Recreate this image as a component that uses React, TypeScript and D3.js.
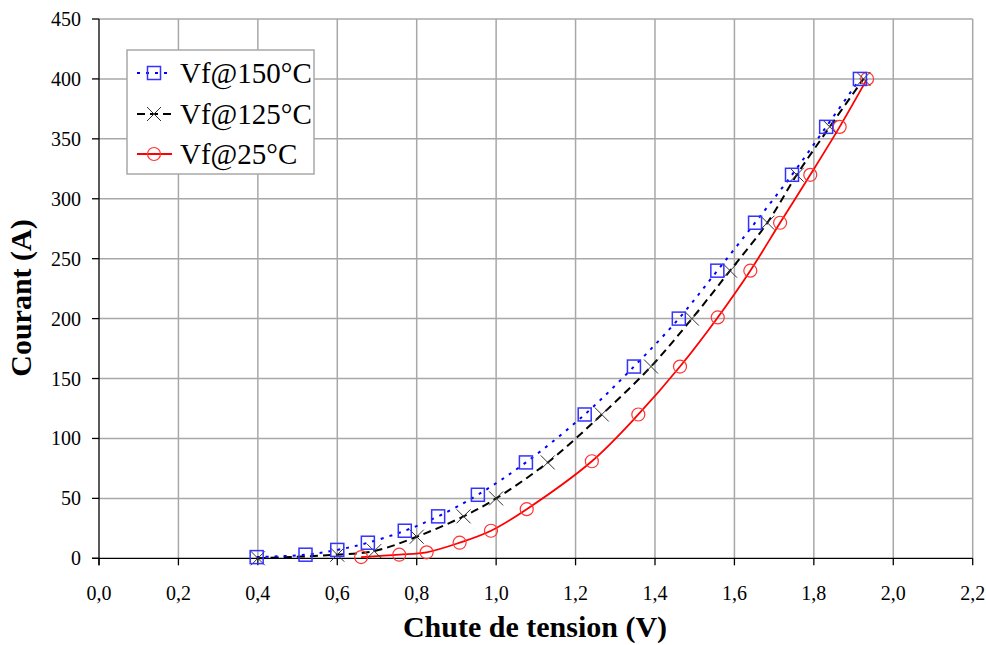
import React from "react";
import * as d3 from "d3";

const xTicks = [0, 0.2, 0.4, 0.6, 0.8, 1.0, 1.2, 1.4, 1.6, 1.8, 2.0, 2.2];
const yTicks = [0, 50, 100, 150, 200, 250, 300, 350, 400, 450];

const v150 = [0.397, 0.52, 0.6, 0.677, 0.77, 0.854, 0.954, 1.075, 1.223, 1.347, 1.46, 1.557, 1.652, 1.745, 1.831, 1.916];
const i150 = [1, 3, 7, 13, 23, 35, 53, 80, 120, 160, 200, 240, 280, 320, 360, 400];

const v125 = [0.4, 0.6, 0.693, 0.8, 0.918, 1.0, 1.13, 1.266, 1.39, 1.493, 1.589, 1.683, 1.757, 1.84, 1.925];
const i125 = [0, 3, 6, 18, 35, 50, 80, 120, 160, 200, 240, 280, 320, 360, 400];

const v25 = [0.66, 0.756, 0.825, 0.908, 0.987, 1.077, 1.241, 1.358, 1.463, 1.558, 1.64, 1.715, 1.791, 1.865, 1.934];
const i25 = [1, 3, 5, 13, 23, 41, 81, 120, 160, 201, 240, 280, 320, 360, 400];

const legendLabels = ["Vf@150°C", "Vf@125°C", "Vf@25°C"];

const W = 986;
const H = 645;
const font = "'Liberation Serif', 'Times New Roman', serif";

const x = d3.scaleLinear().domain([0, 2.2]).range([99, 972.7]);
const y = d3.scaleLinear().domain([0, 450]).range([558.3, 19]);

type P = [number, number];
const zip = (a: number[], b: number[]): P[] => a.map((v, i) => [v, b[i]]);

const line = d3
  .line<P>()
  .x((d) => x(d[0]))
  .y((d) => y(d[1]))
  .curve(d3.curveCatmullRom.alpha(0.5));

const fmt = (v: number) => v.toFixed(1).replace(".", ",");

function Square({ cx, cy }: { cx: number; cy: number }) {
  const s = 13;
  return <rect x={cx - s / 2} y={cy - s / 2} width={s} height={s} fill="none" stroke="#3333ff" strokeWidth={1.5} />;
}
function Cross({ cx, cy }: { cx: number; cy: number }) {
  const s = 7;
  return (
    <g stroke="#333" strokeWidth={1}>
      <line x1={cx - s} y1={cy - s} x2={cx + s} y2={cy + s} />
      <line x1={cx - s} y1={cy + s} x2={cx + s} y2={cy - s} />
    </g>
  );
}
function Circ({ cx, cy }: { cx: number; cy: number }) {
  return <circle cx={cx} cy={cy} r={6.5} fill="none" stroke="#ff3333" strokeWidth={1.2} />;
}

export default function App() {
  const d150 = zip(v150, i150);
  const d125 = zip(v125, i125);
  const d25 = zip(v25, i25);
  const legendY = [73, 114, 154];
  return (
    <svg width={W} height={H} style={{ position: "absolute", left: 0, top: 0, background: "#fff" }} fontFamily={font}>
      <rect x={0} y={0} width={W} height={H} fill="#fff" />
      {/* grid */}
      {xTicks.slice(1).map((t) => (
        <line key={"gx" + t} x1={x(t)} x2={x(t)} y1={y(450)} y2={y(0)} stroke="#a8a8a8" strokeWidth={1.5} />
      ))}
      {yTicks.slice(1).map((t) => (
        <line key={"gy" + t} x1={x(0)} x2={x(2.2)} y1={y(t)} y2={y(t)} stroke="#a8a8a8" strokeWidth={1.5} />
      ))}
      {/* axes */}
      <line x1={x(0)} x2={x(0)} y1={y(450)} y2={y(0) + 7} stroke="#000" strokeWidth={1.3} />
      <line x1={x(0) - 7} x2={x(2.2)} y1={y(0)} y2={y(0)} stroke="#000" strokeWidth={1.3} />
      {xTicks.map((t) => (
        <g key={"xt" + t}>
          <line x1={x(t)} x2={x(t)} y1={y(0)} y2={y(0) + 7} stroke="#000" strokeWidth={1.3} />
          <text x={x(t)} y={600} textAnchor="middle" fontSize={20} fill="#000">
            {fmt(t)}
          </text>
        </g>
      ))}
      {yTicks.map((t) => (
        <g key={"yt" + t}>
          <line x1={x(0) - 7} x2={x(0)} y1={y(t)} y2={y(t)} stroke="#000" strokeWidth={1.3} />
          <text x={81} y={y(t)} dy="0.35em" textAnchor="end" fontSize={20} fill="#000">
            {t}
          </text>
        </g>
      ))}
      {/* titles */}
      <text x={535} y={637} textAnchor="middle" fontSize={30} fontWeight="bold" fill="#000">
        Chute de tension (V)
      </text>
      <text transform="translate(31,298) rotate(-90)" textAnchor="middle" fontSize={30} fontWeight="bold" fill="#000">
        Courant (A)
      </text>
      {/* series lines */}
      <path d={line(d25) || ""} fill="none" stroke="#ff0000" strokeWidth={1.8} />
      <path d={line(d125) || ""} fill="none" stroke="#000" strokeWidth={2} strokeDasharray="8,5" />
      <path d={line(d150) || ""} fill="none" stroke="#0000ff" strokeWidth={2} strokeDasharray="3,6" />
      {/* markers */}
      {d25.map((d, i) => (
        <Circ key={"c" + i} cx={x(d[0])} cy={y(d[1])} />
      ))}
      {d125.map((d, i) => (
        <Cross key={"x" + i} cx={x(d[0])} cy={y(d[1])} />
      ))}
      {d150.map((d, i) => (
        <Square key={"s" + i} cx={x(d[0])} cy={y(d[1])} />
      ))}
      {/* legend */}
      <rect x={127} y={50} width={187} height={124} fill="#fff" stroke="#a8a8a8" strokeWidth={1.5} />
      <line x1={137} x2={172} y1={legendY[0]} y2={legendY[0]} stroke="#0000ff" strokeWidth={2} strokeDasharray="3,6" />
      <Square cx={154} cy={legendY[0]} />
      <line x1={137} x2={172} y1={legendY[1]} y2={legendY[1]} stroke="#000" strokeWidth={2} strokeDasharray="8,5" />
      <Cross cx={154} cy={legendY[1]} />
      <line x1={137} x2={172} y1={legendY[2]} y2={legendY[2]} stroke="#ff0000" strokeWidth={1.8} />
      <Circ cx={154} cy={legendY[2]} />
      {legendLabels.map((l, i) => (
        <text key={l} x={180} y={legendY[i]} dy="0.35em" fontSize={29} fill="#000">
          {l}
        </text>
      ))}
    </svg>
  );
}
